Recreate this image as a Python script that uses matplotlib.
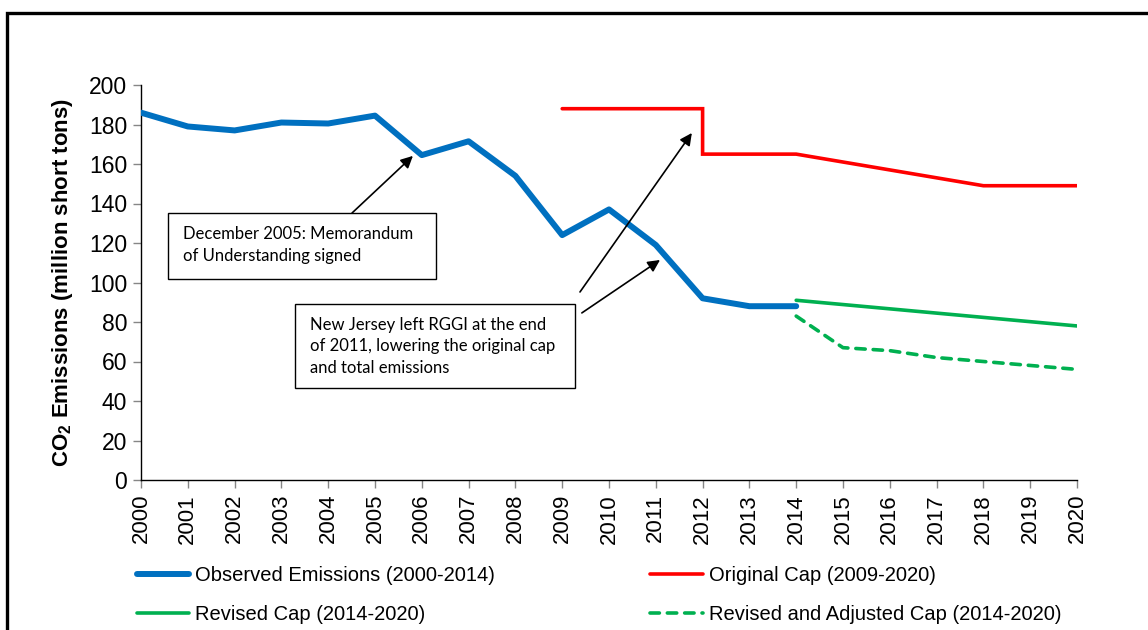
import matplotlib.pyplot as plt
from matplotlib.patches import Rectangle
from matplotlib.lines import Line2D

# data
obs_years = [2000, 2001, 2002, 2003, 2004, 2005, 2006, 2007, 2008, 2009, 2010, 2011, 2012, 2013, 2014]
obs_values = [186, 179, 177, 181, 180.5, 184.5, 164.5, 171.5, 154, 124, 137, 119, 92, 88, 88]

orig_years = [2009, 2012, 2012, 2014, 2018, 2020]
orig_values = [188, 188, 165, 165, 149, 149]

rev_years = [2014, 2020]
rev_values = [91, 78]

adj_years = [2014, 2015, 2016, 2017, 2018, 2019, 2020]
adj_values = [83, 67, 65.5, 62, 60, 58, 56]

year_ticks = list(range(2000, 2021))
y_ticks = list(range(0, 201, 20))

blue = '#0070C0'
red = '#FF0000'
green = '#00B050'

plt.rcParams['font.family'] = ['Liberation Sans', 'DejaVu Sans']
plt.rcParams['mathtext.fontset'] = 'custom'
plt.rcParams['mathtext.rm'] = 'Liberation Sans:bold'
plt.rcParams['mathtext.bf'] = 'Liberation Sans:bold'

fig = plt.figure(figsize=(11.48, 6.30), dpi=100)
ax = fig.add_axes([141 / 1148, 1 - 480 / 630, (1077 - 141) / 1148, (480 - 85) / 630])

ax.plot(obs_years, obs_values, color=blue, lw=4.3, solid_capstyle='round', solid_joinstyle='round', zorder=3)
ax.plot(orig_years, orig_values, color=red, lw=2.6, solid_capstyle='round', solid_joinstyle='miter', zorder=3)
ax.plot(rev_years, rev_values, color=green, lw=2.6, solid_capstyle='round', zorder=3)
ax.plot(adj_years, adj_values, color=green, lw=2.6, dashes=(2.6, 2.2), dash_capstyle='round', zorder=3)

ax.set_xlim(2000, 2020)
ax.set_ylim(0, 200)
ax.set_xticks(year_ticks)
ax.set_xticklabels([str(y) for y in year_ticks], rotation=90, fontsize=16)
ax.set_yticks(y_ticks)
ax.set_yticklabels([str(v) for v in y_ticks], fontsize=16.5)
ax.tick_params(axis='x', direction='out', length=6, width=1, color='#868686', pad=4)
ax.tick_params(axis='y', direction='out', length=6, width=1, color='#868686', pad=4)
for side in ['top', 'right']:
    ax.spines[side].set_visible(False)
for side in ['left', 'bottom']:
    ax.spines[side].set_linewidth(1)
    ax.spines[side].set_color('black')

ax.set_ylabel(r'$\mathbf{CO_2}$ Emissions (million short tons)', fontsize=16, fontweight='bold', labelpad=10)

# annotation boxes
ax.add_patch(Rectangle((2000.58, 101.8), 5.72, 33.4, facecolor='white', edgecolor='black', lw=1, zorder=4))
ax.text(2000.9, 118.8, 'December 2005: Memorandum\nof Understanding signed', family='Lato', fontsize=12,
        va='center', ha='left', linespacing=1.45, zorder=5)

ax.add_patch(Rectangle((2003.29, 46.6), 5.98, 42.5, facecolor='white', edgecolor='black', lw=1, zorder=4))
ax.text(2003.61, 67.6, 'New Jersey left RGGI at the end\nof 2011, lowering the original cap\nand total emissions',
        family='Lato', fontsize=12, va='center', ha='left', linespacing=1.45, zorder=5)

arrow = dict(arrowstyle='-|>', color='black', lw=1.2, mutation_scale=18, shrinkA=0, shrinkB=0)
ax.annotate('', xy=(2005.81, 164.1), xytext=(2004.51, 135.2), arrowprops=arrow, zorder=5)
ax.annotate('', xy=(2011.77, 175.7), xytext=(2009.38, 95.2), arrowprops=arrow, zorder=5)
ax.annotate('', xy=(2011.09, 111.4), xytext=(2009.42, 84.6), arrowprops=arrow, zorder=5)

# legend
handles = [
    Line2D([], [], color=blue, lw=4.3, solid_capstyle='round'),
    Line2D([], [], color=green, lw=2.6, solid_capstyle='round'),
    Line2D([], [], color=red, lw=2.6, solid_capstyle='round'),
    Line2D([], [], color=green, lw=2.6, dashes=(2.6, 2.2), dash_capstyle='round'),
]
labels = ['Observed Emissions (2000-2014)', 'Revised Cap (2014-2020)',
          'Original Cap (2009-2020)', 'Revised and Adjusted Cap (2014-2020)']
fig.legend(handles, labels, ncol=2, loc='upper left', bbox_to_anchor=(137 / 1148, 1 - 566 / 630),
           frameon=False, fontsize=14.5, handlelength=2.6, handletextpad=0.3, columnspacing=7.7,
           labelspacing=1.0, borderpad=0, borderaxespad=0)

# outer frame
fig.patches.append(Rectangle((7 / 1148, -0.1), 1.5, 1.1 - 13 / 630, transform=fig.transFigure,
                             fill=False, edgecolor='black', lw=2.4, zorder=10))

fig.savefig('out.png', dpi=100)
